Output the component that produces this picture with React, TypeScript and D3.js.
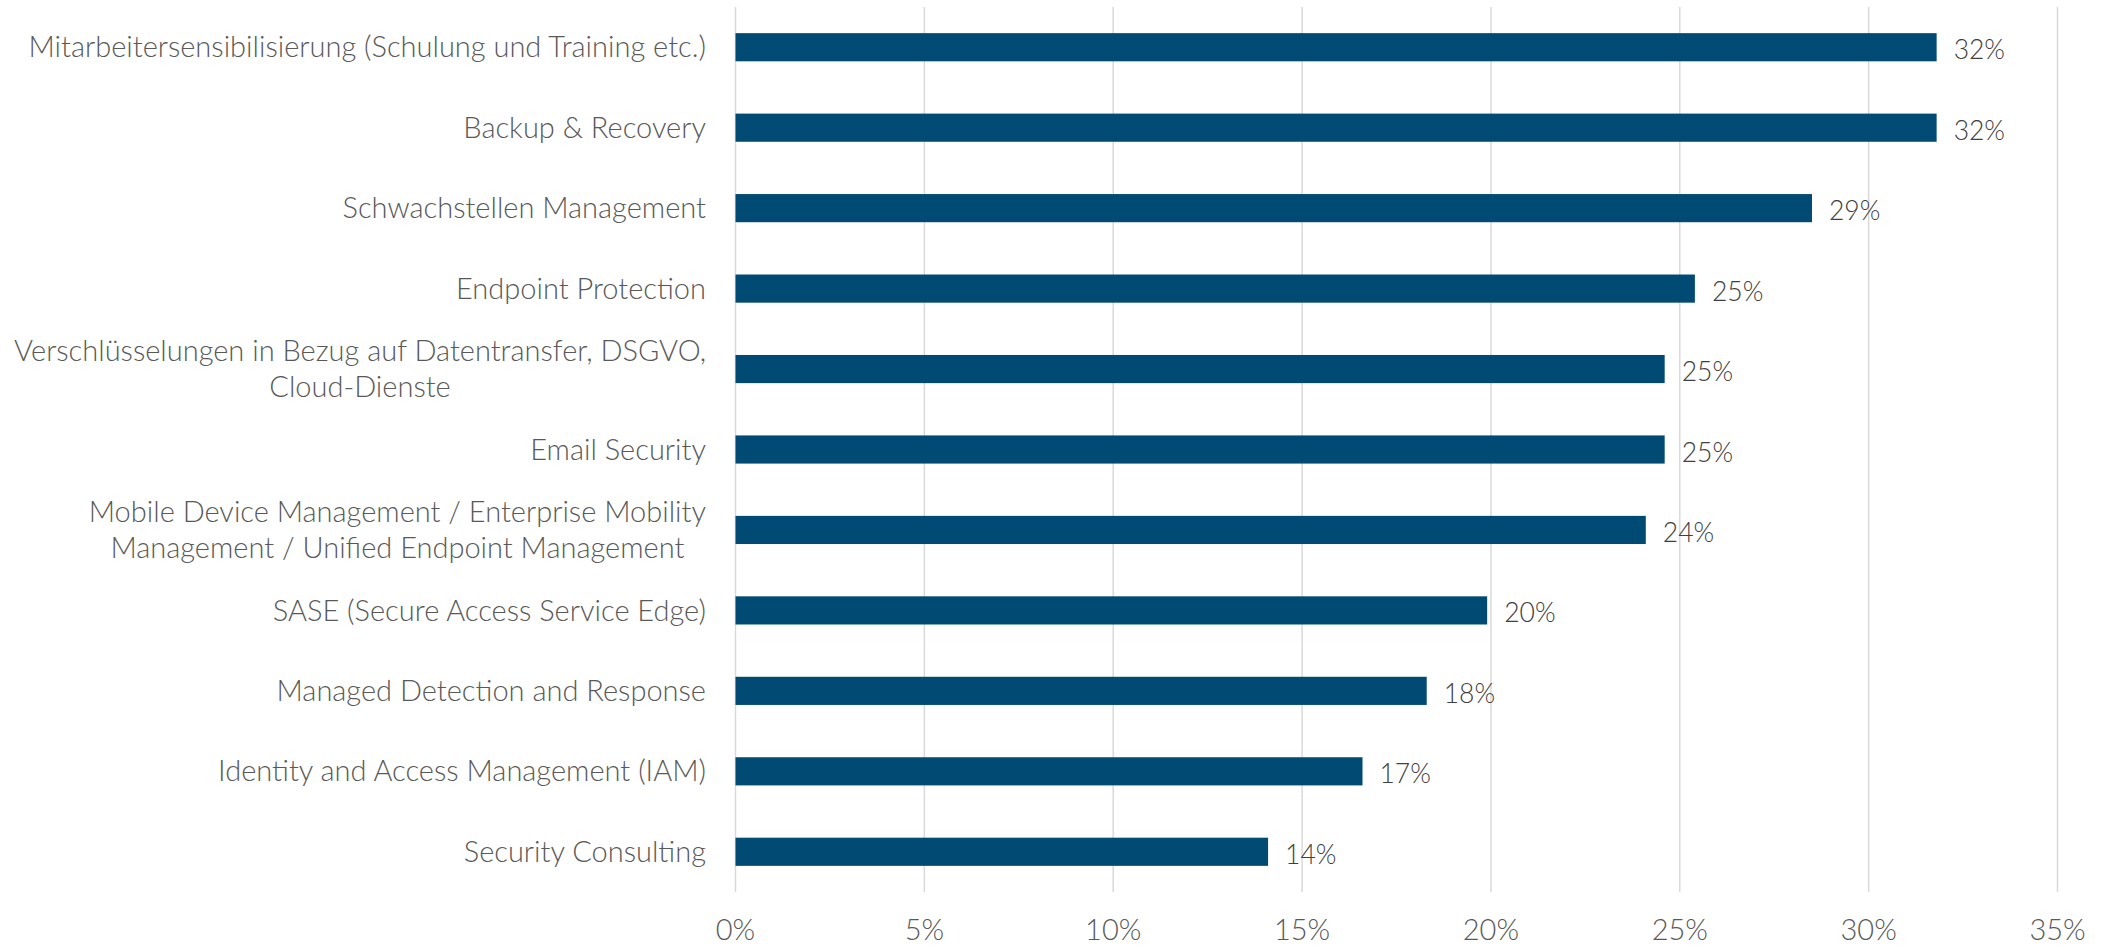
import React, { useEffect, useRef } from "react";
import * as d3 from "d3";

const categories: string[][] = [
  ["Mitarbeitersensibilisierung (Schulung und Training etc.)"],
  ["Backup & Recovery"],
  ["Schwachstellen Management"],
  ["Endpoint Protection"],
  ["Verschlüsselungen in Bezug auf Datentransfer, DSGVO,", "Cloud-Dienste"],
  ["Email Security"],
  ["Mobile Device Management / Enterprise Mobility", "Management / Unified Endpoint Management"],
  ["SASE (Secure Access Service Edge)"],
  ["Managed Detection and Response"],
  ["Identity and Access Management (IAM)"],
  ["Security Consulting"],
];

const values: number[] = [31.8, 31.8, 28.5, 25.4, 24.6, 24.6, 24.1, 19.9, 18.3, 16.6, 14.1];

const ticks: number[] = [0, 5, 10, 15, 20, 25, 30, 35];

const W = 2106;
const H = 950;
const FONT = "Lato, 'Open Sans', sans-serif";

export default function App() {
  const ref = useRef<SVGSVGElement | null>(null);

  useEffect(() => {
    const svg = d3.select(ref.current);
    svg.selectAll("*").remove();

    const x = d3.scaleLinear().domain([0, 35]).range([735.5, 2057.5]);
    const y = d3
      .scaleBand<number>()
      .domain(categories.map((_, i) => i))
      .range([7, 892])
      .paddingInner(0.65)
      .paddingOuter(0.325);

    svg
      .append("g")
      .selectAll("line")
      .data(ticks)
      .join("line")
      .attr("x1", (d) => x(d))
      .attr("x2", (d) => x(d))
      .attr("y1", 7)
      .attr("y2", 892)
      .attr("stroke", "#d9d9d9")
      .attr("stroke-width", 1.5);

    svg
      .append("g")
      .selectAll("text")
      .data(ticks)
      .join("text")
      .attr("x", (d) => x(d))
      .attr("y", 940)
      .attr("text-anchor", "middle")
      .attr("font-family", FONT)
      .attr("font-weight", 300)
      .attr("font-size", 29)
      .attr("fill", "#595959")
      .text((d) => `${d}%`);

    svg
      .append("g")
      .selectAll("rect")
      .data(values)
      .join("rect")
      .attr("x", x(0))
      .attr("y", (_, i) => y(i)!)
      .attr("width", (d) => x(d) - x(0))
      .attr("height", y.bandwidth())
      .attr("fill", "#004a73");

    svg
      .append("g")
      .selectAll("text")
      .data(values)
      .join("text")
      .attr("x", (d) => x(d) + 17)
      .attr("y", (_, i) => y(i)! + y.bandwidth() / 2 + 12)
      .attr("font-family", FONT)
      .attr("font-weight", 300)
      .attr("font-size", 26.5)
      .attr("fill", "#404040")
      .text((d) => `${Math.round(d)}%`);

    const right = 706;
    const fs = 29;
    const lineH = 35.5;
    const g = svg.append("g");
    categories.forEach((lines, i) => {
      const cy = y(i)! + y.bandwidth() / 2;
      const t = g
        .append("text")
        .attr("font-family", FONT)
        .attr("font-weight", 300)
        .attr("font-size", fs)
        .attr("fill", "#595959")
        .attr("text-anchor", "middle");
      const spans = lines.map((l, k) =>
        t
          .append("tspan")
          .attr("y", cy + (k - (lines.length - 1) / 2) * lineH + fs * 0.35)
          .text(l)
      );
      let maxW = 0;
      spans.forEach((s) => {
        const n = s.node() as SVGTSpanElement;
        maxW = Math.max(maxW, n.getComputedTextLength());
      });
      spans.forEach((s) => s.attr("x", right - maxW / 2));
    });
  }, []);

  return (
    <div style={{ position: "absolute", left: 0, top: 0, background: "#fff" }}>
      <svg ref={ref} width={W} height={H} style={{ display: "block" }} />
    </div>
  );
}
